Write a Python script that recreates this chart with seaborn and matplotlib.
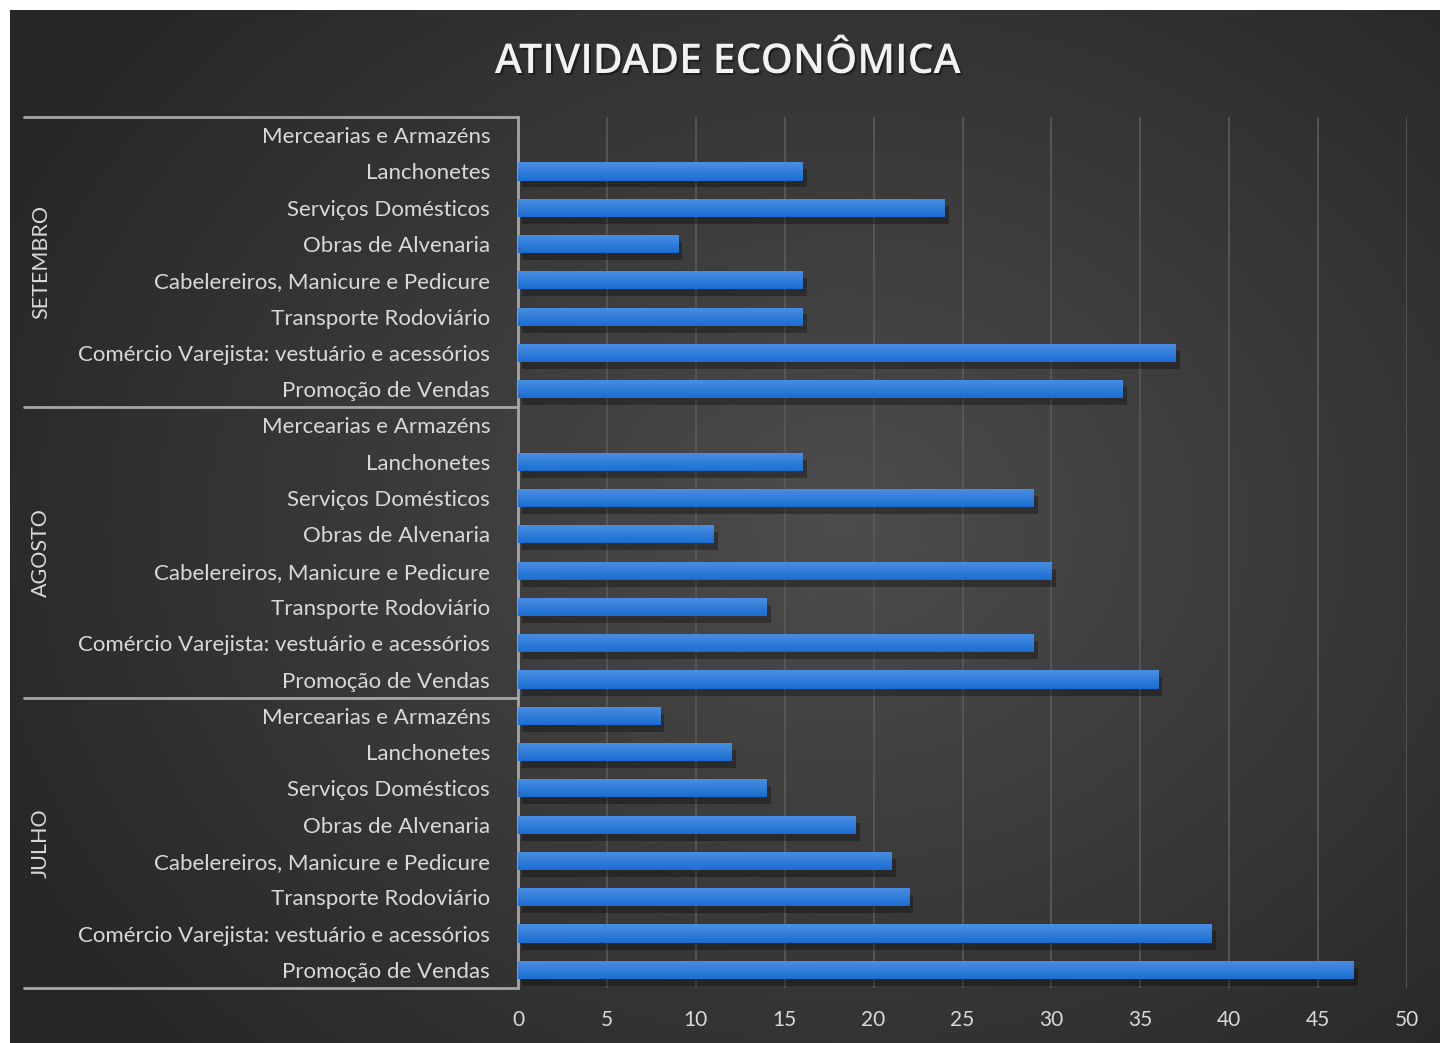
import numpy as np
import pandas as pd
import matplotlib
matplotlib.use("Agg")
import matplotlib.pyplot as plt
import matplotlib.patheffects as pe
import seaborn as sns

atividades = [
    "Mercearias e Armazéns",
    "Lanchonetes",
    "Serviços Domésticos",
    "Obras de Alvenaria",
    "Cabelereiros, Manicure e Pedicure",
    "Transporte Rodoviário",
    "Comércio Varejista: vestuário e acessórios",
    "Promoção de Vendas",
]
meses = ["SETEMBRO", "AGOSTO", "JULHO"]
setembro = [0, 16, 24, 9, 16, 16, 37, 34]
agosto = [0, 16, 29, 11, 30, 14, 29, 36]
julho = [8, 12, 14, 19, 21, 22, 39, 47]
x_ticks = [0, 5, 10, 15, 20, 25, 30, 35, 40, 45, 50]
titulo = "ATIVIDADE ECONÔMICA"

valores = {"SETEMBRO": setembro, "AGOSTO": agosto, "JULHO": julho}
rows = []
for mes in meses:
    for atv, v in zip(atividades, valores[mes]):
        rows.append({"linha": f"{mes}|{atv}", "mes": mes, "atividade": atv, "valor": v})
df = pd.DataFrame(rows)

sns.set_theme(style="white")
plt.rcParams["font.family"] = ["Lato", "DejaVu Sans"]

W, H = 1440, 1043
fig = plt.figure(figsize=(W / 100, H / 100), dpi=100)
fig.patch.set_facecolor("white")

# dark radial background
bg = fig.add_axes([10 / W, 0, (W - 10) / W, (H - 10) / H])
yy, xx = np.mgrid[0:1:400j, 0:1:560j]
r = np.sqrt(((xx - 0.58) / 0.75) ** 2 + ((yy - 0.5) / 0.85) ** 2)
shade = np.clip(0.30 - 0.17 * r, 0.15, 0.30)
bg.imshow(np.dstack([shade] * 3), aspect="auto", extent=[0, 1, 0, 1])
bg.set_axis_off()

x0, x1 = 518, 1407
y_top, y_bot = 117, 988
ax = fig.add_axes([x0 / W, 1 - y_bot / H, (x1 - x0) / W, (y_bot - y_top) / H])
ax.patch.set_alpha(0)

sns.barplot(data=df, x="valor", y="linha", orient="h", order=df["linha"].tolist(),
            color="#2a7bd9", width=0.5, linewidth=0, edgecolor="none", ax=ax, zorder=3)

grad = np.linspace(0, 1, 50).reshape(-1, 1)
cmap = matplotlib.colors.LinearSegmentedColormap.from_list("b", ["#4b8fe2", "#1a6ed2"])
for p in list(ax.patches):
    bx, by, bw, bh = p.get_x(), p.get_y(), p.get_width(), p.get_height()
    if bw <= 0:
        p.set_visible(False)
        continue
    p.set_path_effects([pe.SimplePatchShadow(offset=(3, -5), shadow_rgbFace="black", alpha=0.3), pe.Normal()])
    im = ax.imshow(grad, cmap=cmap, aspect="auto", extent=[bx, bx + bw, by + bh, by], zorder=4)
    im.set_clip_path(p)

ax.set_xlim(0, 50)
ax.set_ylim(len(df) - 0.5, -0.5)
ax.set_xticks(x_ticks)
ax.set_xticklabels([str(t) for t in x_ticks], color="#d9d9d9", fontsize=15)
ax.set_yticks(range(len(df)))
ax.set_yticklabels(df["atividade"], color="#d9d9d9", fontsize=16)
ax.tick_params(axis="y", length=0, pad=20)
ax.tick_params(axis="x", length=0, pad=16)
ax.set_xlabel("")
ax.set_ylabel("")
for t in x_ticks[1:]:
    ax.axvline(t, color="#5a5a5a", lw=1.2, zorder=1)
for s in ["top", "right", "bottom"]:
    ax.spines[s].set_visible(False)
ax.spines["left"].set_color("#a6a6a6")
ax.spines["left"].set_linewidth(2)

# group separators and month labels
n = len(atividades)
sep_x0 = (24 - x0) / (x1 - x0) * 50
for k in range(len(meses) + 1):
    ax.plot([sep_x0, 0], [k * n - 0.5] * 2, color="#a6a6a6", lw=2, clip_on=False,
            transform=ax.transData, zorder=2)
lab_x = (41 - x0) / (x1 - x0) * 50
for k, mes in enumerate(meses):
    ax.text(lab_x, k * n + n / 2 - 0.5, mes, rotation=90, ha="center", va="center",
            color="#d9d9d9", fontsize=15.5, clip_on=False)

fig.text(728 / W, 1 - 62 / H, titulo, ha="center", va="center", color="#f2f2f2",
         fontsize=29.5, fontweight="semibold", family=["Open Sans", "DejaVu Sans"],
         path_effects=[pe.withSimplePatchShadow(offset=(1.5, -1.5), shadow_rgbFace="black", alpha=0.4)])

fig.savefig("out.png", dpi=100)
